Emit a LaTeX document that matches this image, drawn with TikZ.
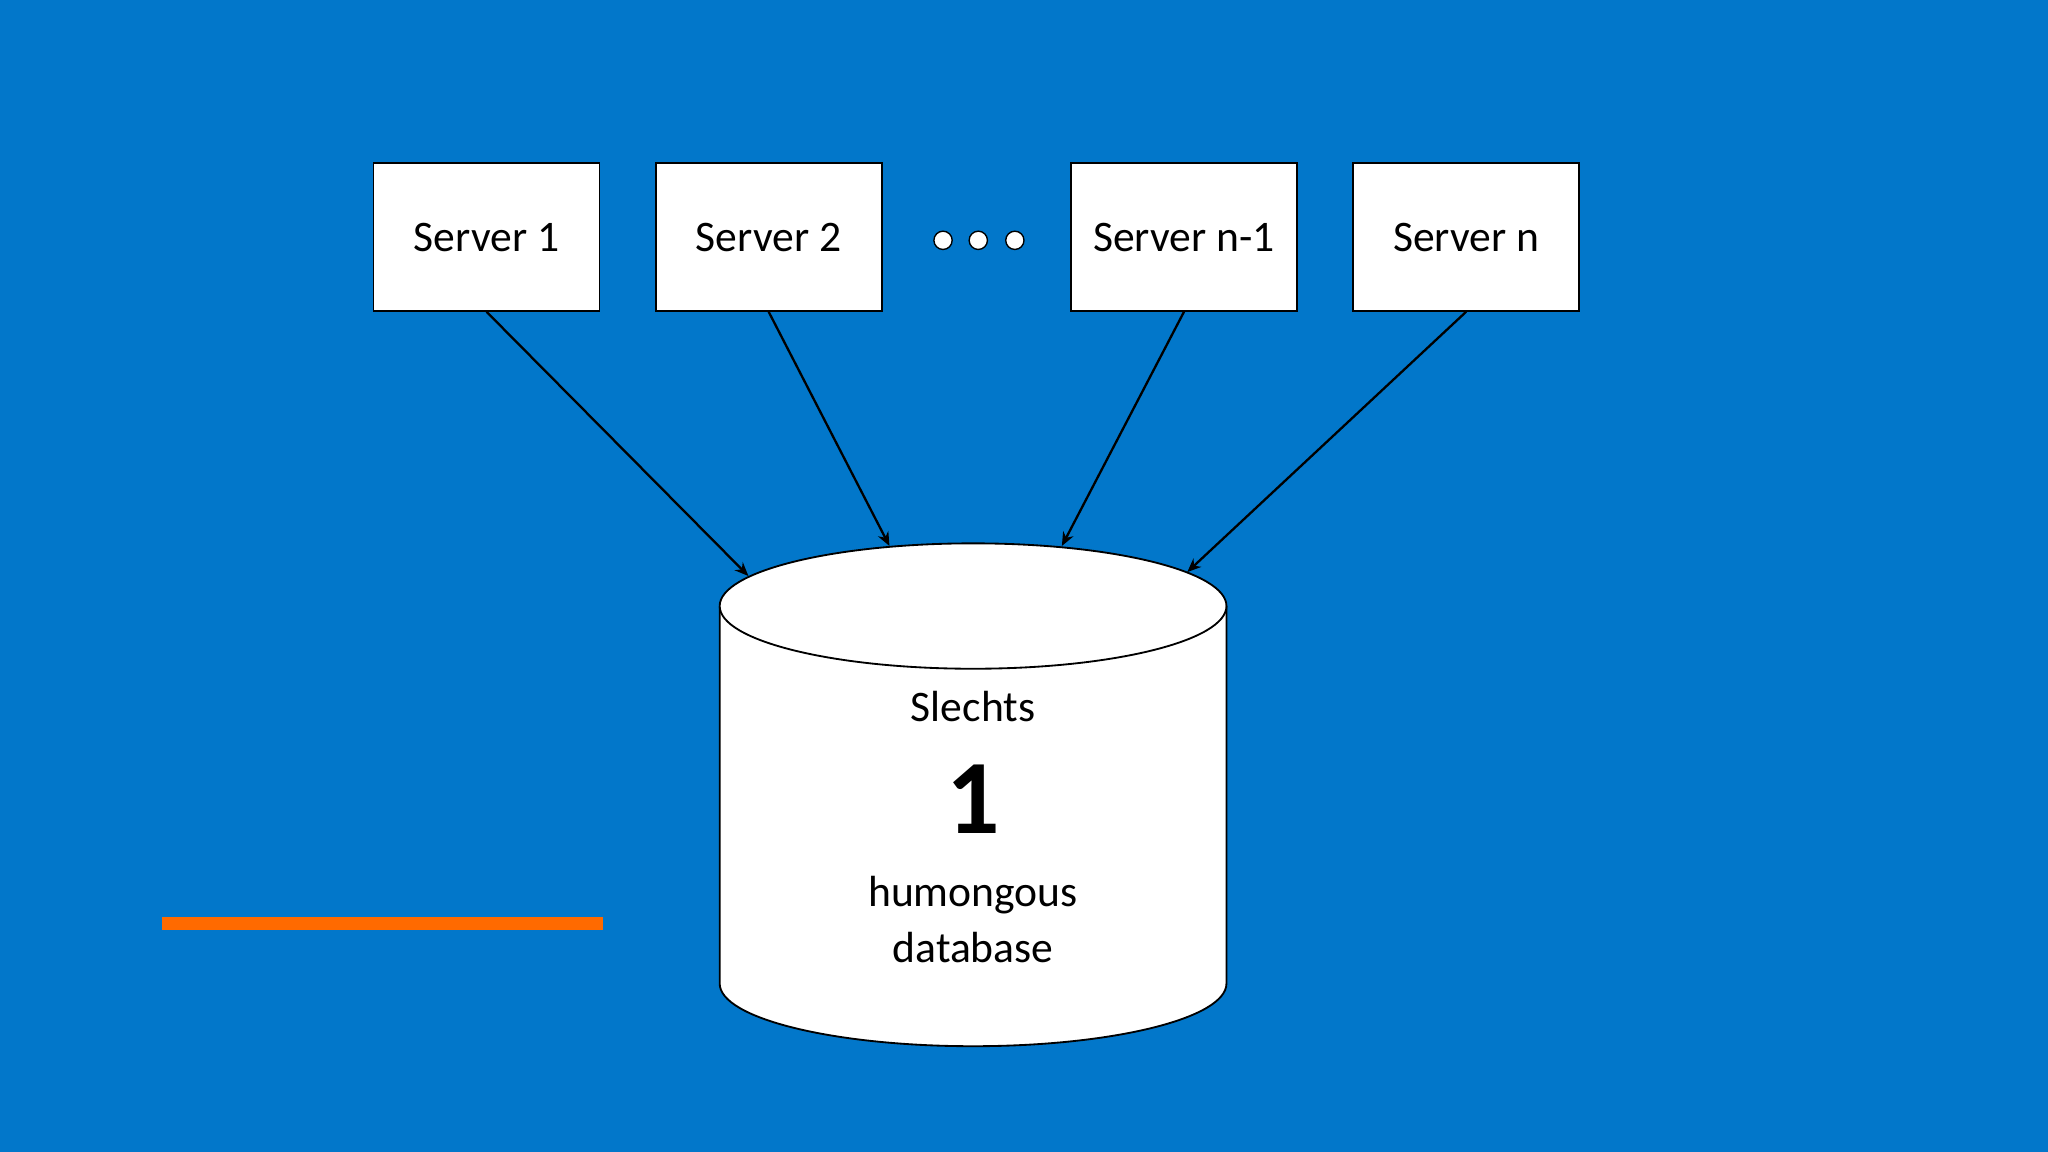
\documentclass[tikz,border=0pt]{standalone}
\usepackage{fontspec}
\setmainfont{Carlito}
\usetikzlibrary{arrows.meta}
\definecolor{bg}{HTML}{0277CA}
\definecolor{org}{HTML}{FF6A00}
\begin{document}
\begin{tikzpicture}[x=0.02cm,y=-0.02cm,
  srv/.style={draw=black,fill=white,line width=0.8pt,minimum width=3.46cm,minimum height=2.26cm,inner sep=0pt,font=\fontsize{19}{21}\selectfont},
  arr/.style={-{Stealth[length=6pt,width=5pt]},line width=1pt},
  dot/.style={circle,draw=black,fill=white,line width=0.6pt,minimum size=0.28cm,inner sep=0pt}]
\fill[bg] (0,0) rectangle (1568,882);
\useasboundingbox (0,0) rectangle (1568,882);
\fill[org] (124,702) rectangle (462,712);
\node[srv] (s1) at (372.5,181.5) {Server 1};
\node[srv] (s2) at (588.5,181.5) {Server 2};
\node[srv] (s3) at (906.5,181.5) {Server n-1};
\node[srv] (s4) at (1122.5,181.5) {Server n};
\node[dot] (d1) at (722,184) {};
\node[dot] (d2) at (749,184) {};
\node[dot] (d3) at (777,184) {};
% cylinder
\filldraw[fill=white,draw=black,line width=0.8pt] (551,464) -- (551,753) arc[start angle=180,end angle=0,x radius=194,y radius=48] -- (939,464);
\filldraw[fill=white,draw=black,line width=0.8pt] (745,464) ellipse[x radius=194,y radius=48];
\coordinate (t1) at (573,441);
\coordinate (t2) at (681,418);
\coordinate (t3) at (813,418);
\coordinate (t4) at (909,438);
\node[font=\fontsize{19}{21}\selectfont] (sl) at (745,541) {Slechts};
\node[font=\fontsize{46}{48}\selectfont\bfseries] (one) at (745,612) {1};
\node[font=\fontsize{19}{24}\selectfont,align=center] (hd) at (745,704) {humongous\\database};
\draw[arr] (s1.south) -- (t1);
\draw[arr] (s2.south) -- (t2);
\draw[arr] (s3.south) -- (t3);
\draw[arr] (s4.south) -- (t4);
\end{tikzpicture}
\end{document}
